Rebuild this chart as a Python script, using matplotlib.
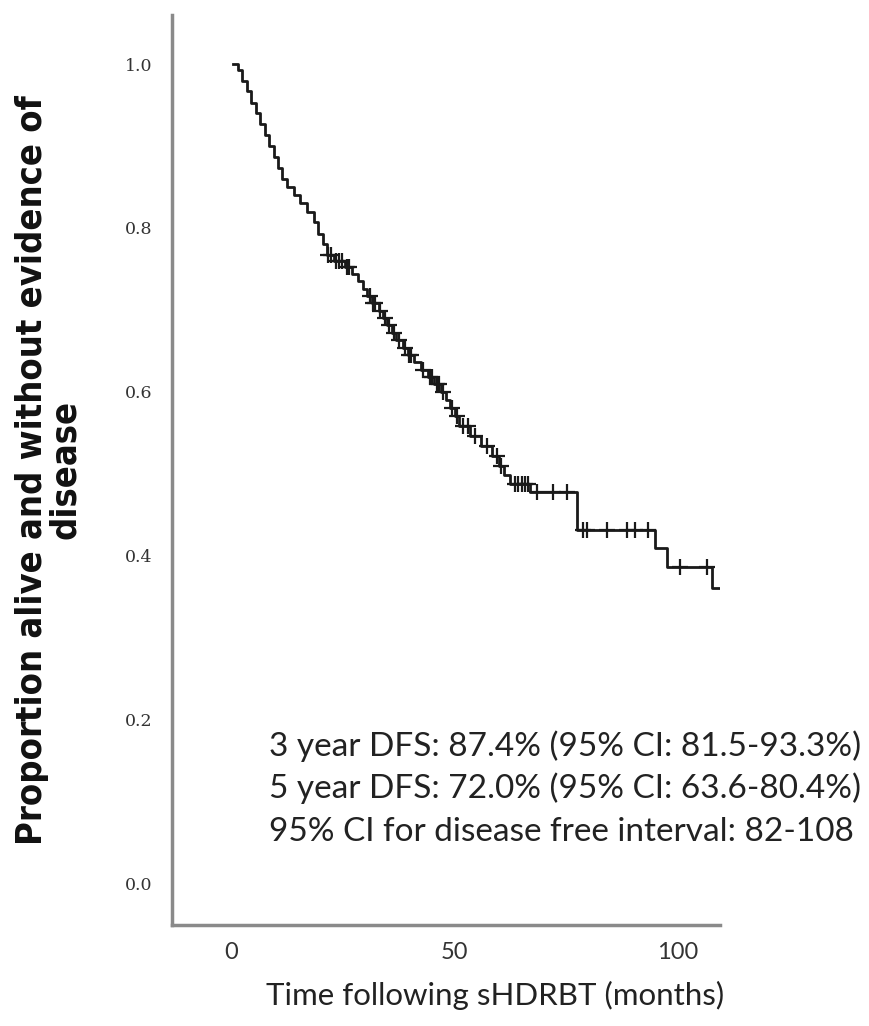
import numpy as np
import matplotlib.pyplot as plt

# Kaplan-Meier step curve (months, proportion)
step_times = [0.5, 1.5, 2.5, 3.5, 4.5, 5.5, 6.5, 7.5, 8.5, 9.5, 10.5, 11.5, 12.5,
              14, 15.5, 17, 18.5, 19.5, 20.5, 21.5, 23, 25.5, 27, 28.5, 29.5,
              30.5, 31.5, 33, 34, 35, 36, 37, 38.5, 39.5, 41, 42.5, 44, 45.5,
              47, 48, 49, 50, 51, 53.5, 56, 58.5, 60, 61, 62.5, 67, 77.4, 94.9,
              97.5, 107.6]
survival = [1.0, 0.993, 0.98, 0.967, 0.953, 0.94, 0.927, 0.913, 0.9, 0.887, 0.873,
            0.86, 0.85, 0.84, 0.83, 0.82, 0.807, 0.793, 0.78, 0.767, 0.76, 0.752,
            0.744, 0.735, 0.726, 0.717, 0.708, 0.699, 0.69, 0.681, 0.672, 0.663,
            0.654, 0.645, 0.636, 0.627, 0.618, 0.609, 0.6, 0.59, 0.58, 0.57,
            0.558, 0.546, 0.534, 0.522, 0.51, 0.498, 0.487, 0.478, 0.431, 0.409,
            0.386, 0.361]
end_time = 109.4

censor_times = [21.8, 22.4, 23.5, 24.2, 24.8, 26.0, 26.5, 31.0, 31.8, 32.3, 33.4,
                34.4, 35.4, 36.4, 37.5, 38.9, 39.8, 40.3, 43.0, 44.5, 45.0, 46.0,
                46.6, 47.5, 49.5, 50.5, 52.0, 53.0, 54.5, 57.3, 59.5, 60.5,
                63.5, 64.3, 65.0, 65.8, 66.5, 68.5, 72.0, 75.2, 78.8, 79.7, 84.1,
                88.6, 90.4, 93.3, 100.4, 106.5]

text_lines = ["3 year DFS: 87.4% (95% CI: 81.5-93.3%)",
              "5 year DFS: 72.0% (95% CI: 63.6-80.4%)",
              "95% CI for disease free interval: 82-108"]

fig = plt.figure(figsize=(8.69, 10.26), dpi=100)
ax = fig.add_axes([0.198, 0.0984, 0.6305, 0.887])

xs = step_times + [end_time]
ys = survival + [survival[-1]]
ax.step(xs, ys, where="post", color="#1a1a1a", lw=2.0)

idx = np.searchsorted(step_times, censor_times, side="right") - 1
cy = np.array(survival)[idx]
ax.plot(censor_times, cy, "+", color="#1a1a1a", ms=11, mew=1.6)

ax.set_xlim(-13.2, 109.4)
ax.set_ylim(-0.051, 1.06)
ax.set_xticks([0, 50, 100])
ax.set_yticks([0.0, 0.2, 0.4, 0.6, 0.8, 1.0])
ax.set_yticklabels(["0.0", "0.2", "0.4", "0.6", "0.8", "1.0"],
                   family="DejaVu Serif", fontsize=12.5, color="#333333")
ax.set_xticklabels(["0", "50", "100"], family="Lato", fontsize=17, color="#333333")
ax.tick_params(length=0)
ax.tick_params(axis="x", pad=12)
ax.tick_params(axis="y", pad=14)

for s in ["top", "right"]:
    ax.spines[s].set_visible(False)
for s in ["left", "bottom"]:
    ax.spines[s].set_color("#8a8a8a")
    ax.spines[s].set_linewidth(2.5)

for i, line in enumerate(text_lines):
    ax.text(0.177, 0.186 - i * 0.0467, line, transform=ax.transAxes,
            family="Lato", fontsize=24, color="#222222", clip_on=False)

fig.text(0.57, 0.03, "Time following sHDRBT (months)", ha="center", va="center",
         family="Lato", fontsize=22.5, color="#222222")
fig.text(0.056, 0.542, "Proportion alive and without evidence of\ndisease",
         ha="center", va="center", rotation=90, family="DejaVu Sans",
         fontstretch="condensed", fontweight="bold", fontsize=26,
         linespacing=0.95, color="#111111")

fig.savefig("out.png", dpi=100)
